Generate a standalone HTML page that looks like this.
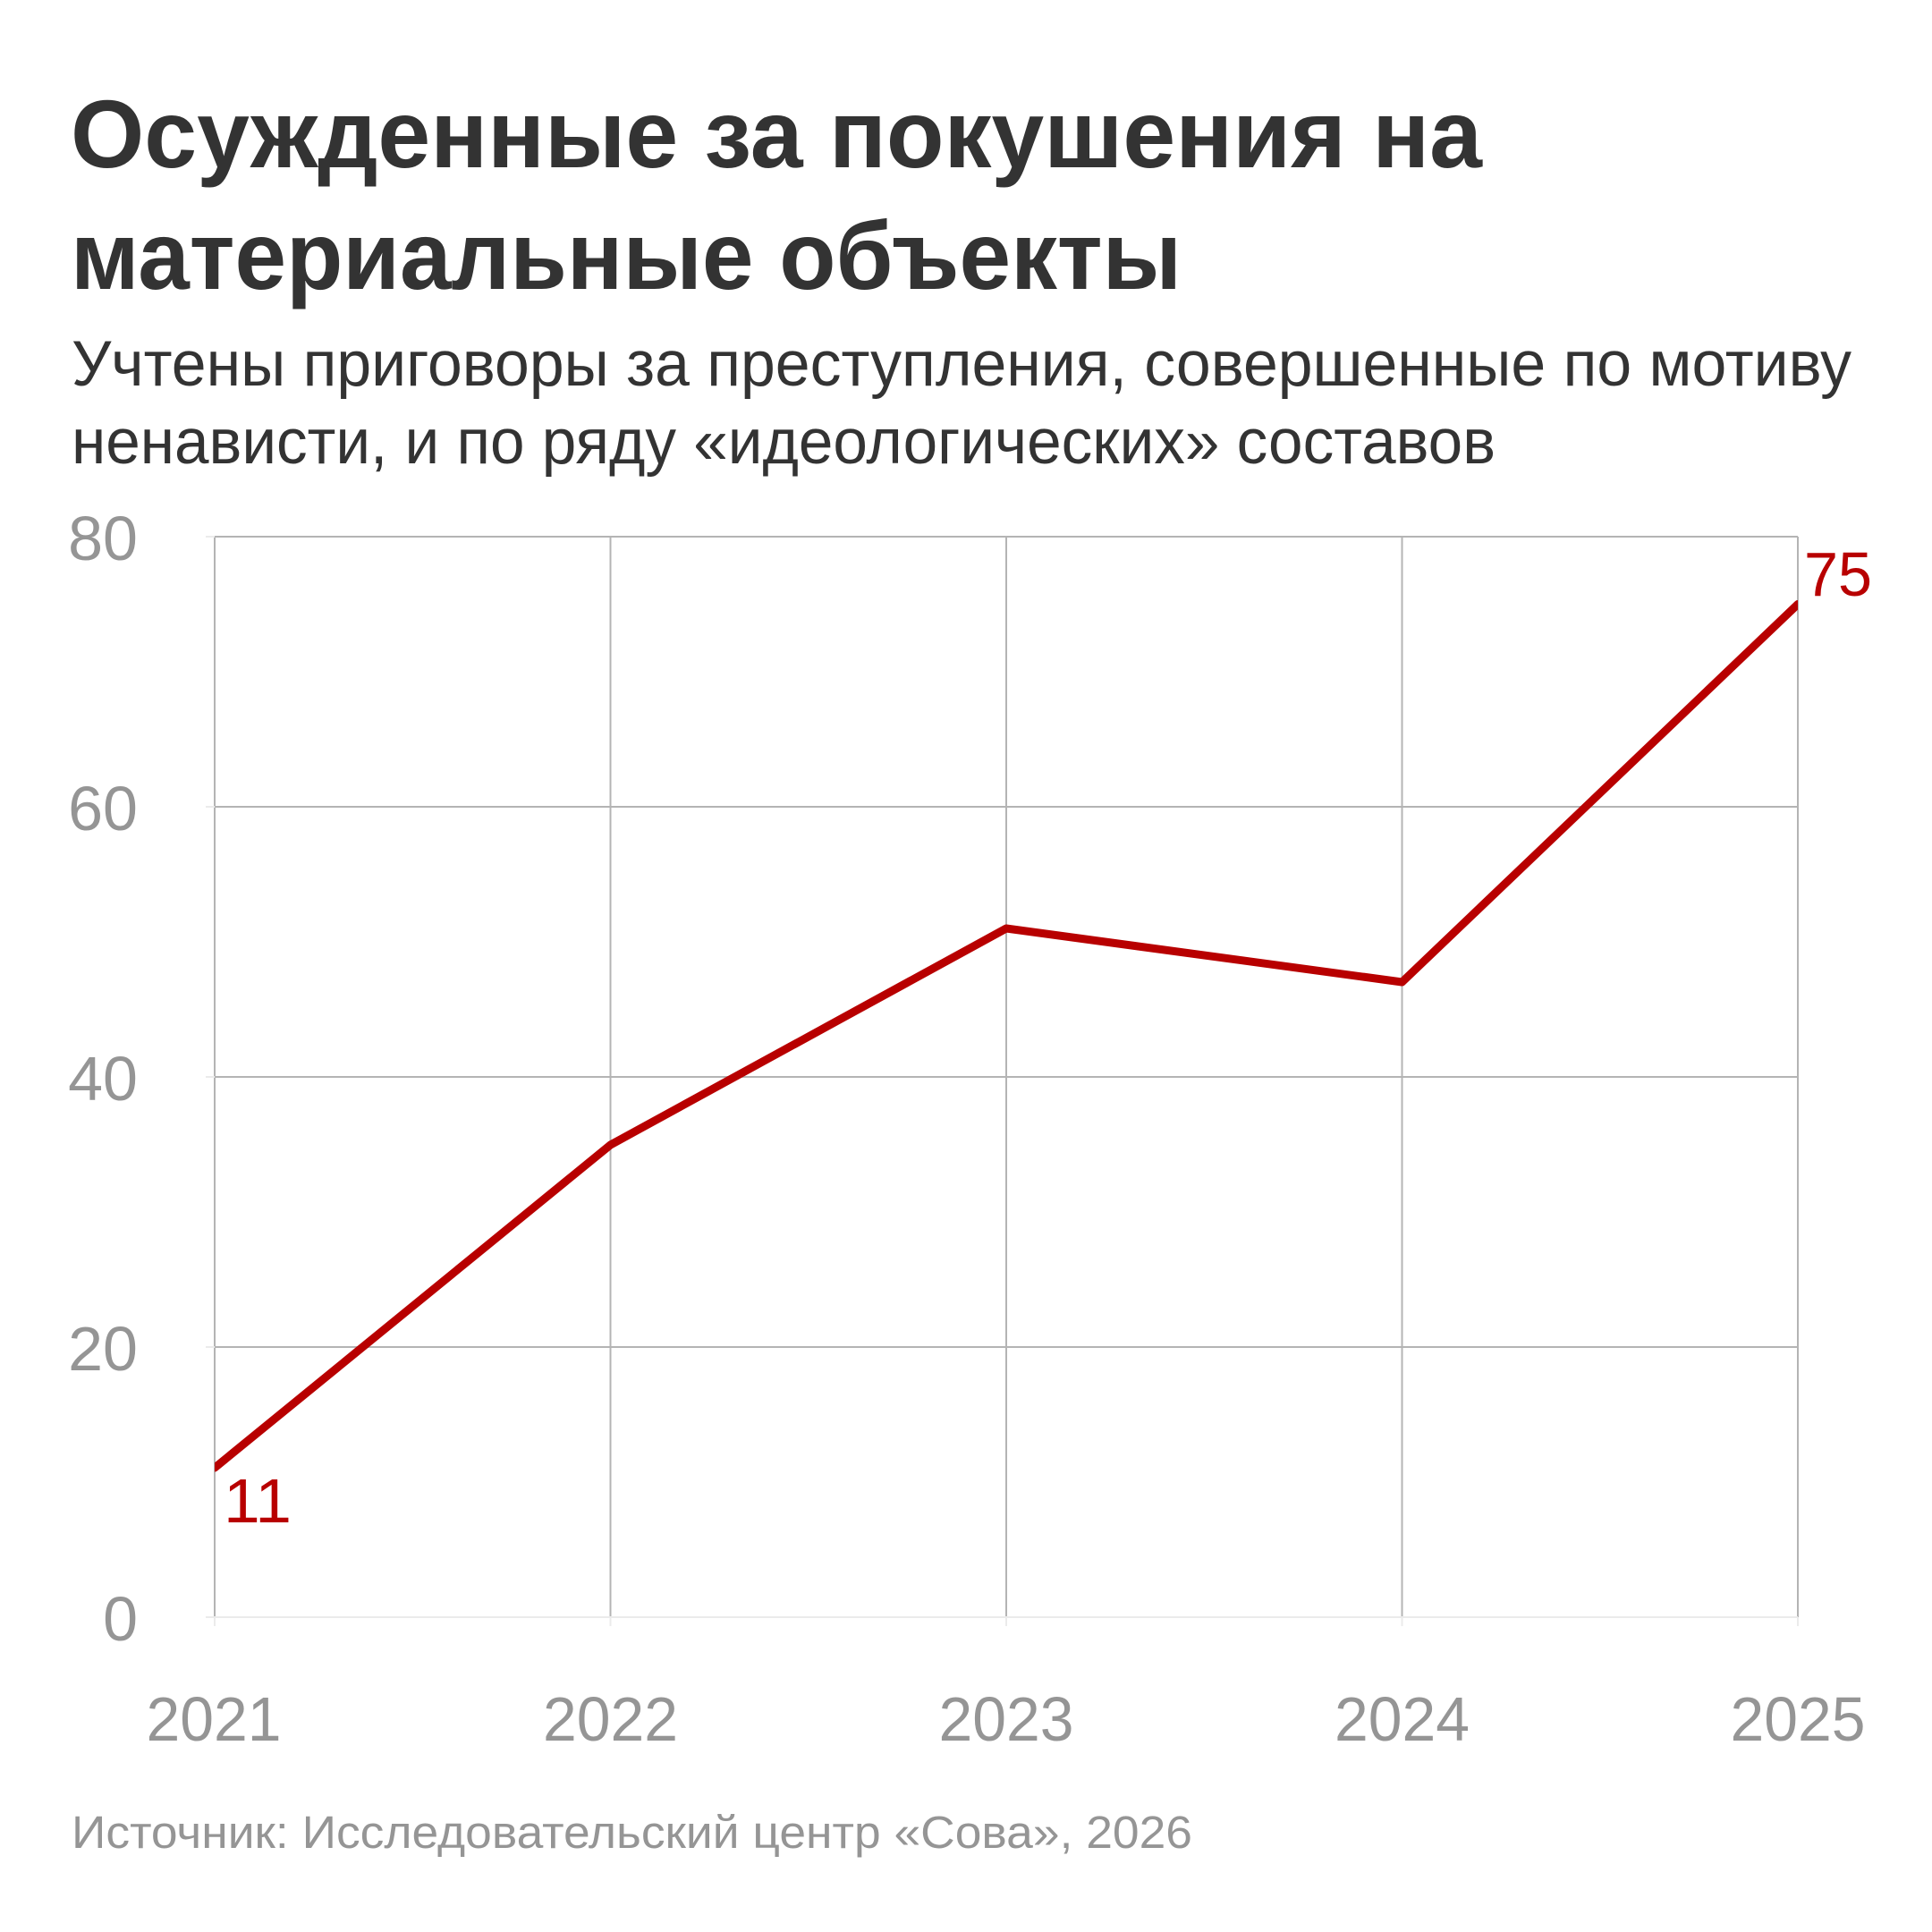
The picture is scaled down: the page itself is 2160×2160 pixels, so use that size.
<!DOCTYPE html>
<html>
<head>
<meta charset="utf-8">
<style>
  html, body { margin: 0; padding: 0; background: #ffffff; }
  svg { display: block; }
</style>
</head>
<body>
<svg width="2160" height="2160" viewBox="0 0 2160 2160" xmlns="http://www.w3.org/2000/svg">
  <rect x="0" y="0" width="2160" height="2160" fill="#ffffff"/>

  <!-- Title -->
  <g font-family="'Liberation Sans', 'DejaVu Sans', sans-serif" font-weight="bold" font-size="108" fill="#333333">
    <text x="79" y="187" textLength="1578" lengthAdjust="spacingAndGlyphs">Осужденные за покушения на</text>
    <text x="79" y="323" textLength="1242" lengthAdjust="spacingAndGlyphs">материальные объекты</text>
  </g>

  <!-- Subtitle -->
  <g font-family="'Liberation Sans', 'DejaVu Sans', sans-serif" font-size="71" fill="#333333">
    <text x="80" y="431" textLength="1990" lengthAdjust="spacingAndGlyphs">Учтены приговоры за преступления, совершенные по мотиву</text>
    <text x="80" y="518" textLength="1592" lengthAdjust="spacingAndGlyphs">ненависти, и по ряду «идеологических» составов</text>
  </g>

  <!-- Grid -->
  <g stroke="#b4b4b4" stroke-width="2" fill="none">
    <line x1="240" y1="600" x2="2010" y2="600"/>
    <line x1="240" y1="902" x2="2010" y2="902"/>
    <line x1="240" y1="1204" x2="2010" y2="1204"/>
    <line x1="240" y1="1506" x2="2010" y2="1506"/>
    <line x1="240" y1="600" x2="240" y2="1808"/>
    <line x1="682.5" y1="600" x2="682.5" y2="1808"/>
    <line x1="1125" y1="600" x2="1125" y2="1808"/>
    <line x1="1567.5" y1="600" x2="1567.5" y2="1808"/>
    <line x1="2010" y1="600" x2="2010" y2="1808"/>
  </g>
  <!-- zero line and ticks (light) -->
  <g stroke="#ebebeb" stroke-width="2" fill="none">
    <line x1="230" y1="1808" x2="2010" y2="1808"/>
    <line x1="230" y1="600" x2="240" y2="600"/>
    <line x1="230" y1="902" x2="240" y2="902"/>
    <line x1="230" y1="1204" x2="240" y2="1204"/>
    <line x1="230" y1="1506" x2="240" y2="1506"/>
    <line x1="240" y1="1808" x2="240" y2="1818"/>
    <line x1="682.5" y1="1808" x2="682.5" y2="1818"/>
    <line x1="1125" y1="1808" x2="1125" y2="1818"/>
    <line x1="1567.5" y1="1808" x2="1567.5" y2="1818"/>
    <line x1="2010" y1="1808" x2="2010" y2="1818"/>
  </g>

  <!-- Y axis labels -->
  <g font-family="'Liberation Sans', 'DejaVu Sans', sans-serif" font-size="70" fill="#959595" text-anchor="end">
    <text x="154" y="626">80</text>
    <text x="154" y="928">60</text>
    <text x="154" y="1230">40</text>
    <text x="154" y="1532">20</text>
    <text x="154" y="1834">0</text>
  </g>

  <!-- X axis labels -->
  <g font-family="'Liberation Sans', 'DejaVu Sans', sans-serif" font-size="70" fill="#959595" text-anchor="middle">
    <text x="239" y="1946" textLength="151" lengthAdjust="spacingAndGlyphs">2021</text>
    <text x="682.5" y="1946" textLength="151" lengthAdjust="spacingAndGlyphs">2022</text>
    <text x="1125" y="1946" textLength="151" lengthAdjust="spacingAndGlyphs">2023</text>
    <text x="1567.5" y="1946" textLength="151" lengthAdjust="spacingAndGlyphs">2024</text>
    <text x="2010" y="1946" textLength="151" lengthAdjust="spacingAndGlyphs">2025</text>
  </g>

  <!-- Data line -->
  <defs>
    <clipPath id="plot">
      <rect x="240" y="560" width="1770" height="1260"/>
    </clipPath>
  </defs>
  <polyline clip-path="url(#plot)" fill="none" stroke="#b80000" stroke-width="9" stroke-linejoin="round" stroke-linecap="round"
    points="240,1641 682.5,1280 1125,1038 1567.5,1098 2010,675.5"/>

  <!-- Data labels -->
  <g font-family="'Liberation Sans', 'DejaVu Sans', sans-serif" font-size="70" fill="#b80000">
    <text x="250" y="1702" textLength="76" lengthAdjust="spacingAndGlyphs">11</text>
    <text x="2017" y="666" textLength="76" lengthAdjust="spacingAndGlyphs">75</text>
  </g>

  <!-- Source -->
  <text x="80" y="2066" font-family="'Liberation Sans', 'DejaVu Sans', sans-serif" font-size="51" fill="#959595" textLength="1253" lengthAdjust="spacingAndGlyphs">Источник: Исследовательский центр «Сова», 2026</text>
</svg>
</body>
</html>
